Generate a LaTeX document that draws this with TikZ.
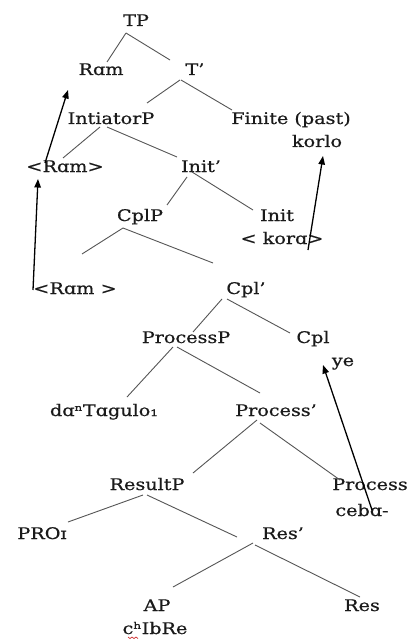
\documentclass[tikz,border=0pt]{standalone}
\usepackage{fontspec}
\setmainfont{DejaVu Serif}[FakeStretch=1.2,FakeBold=0.6]
\usetikzlibrary{arrows.meta}
\definecolor{ink}{HTML}{1A1A1A}
\definecolor{branchgrey}{HTML}{555555}
\definecolor{squiggle}{HTML}{D03030}
\begin{document}
\begin{tikzpicture}[x=1pt,y=-1pt,
  lab/.style={anchor=base, inner sep=0pt, text height=12pt, text depth=3pt,
              font=\fontsize{16}{19}\selectfont, text=ink},
  branch/.style={draw=branchgrey, line width=0.9pt},
  move/.style={draw=black, line width=1.3pt, -{Triangle[length=8.5pt,width=6.5pt]}}]
\fill[white] (0,0) rectangle (408,639);
\useasboundingbox (0,0) rectangle (408,639);

% labels (placed by baseline)
\node[lab] (tp)      at (136,26)  {TP};
\node[lab] (ram)     at (101,75)  {Rɑm};
\node[lab] (tbar)    at (195,75)  {T’};
\node[lab] (initp)   at (111,124) {IntiatorP};
\node[lab] (fin)     at (291,124) {Finite (past)};
\node[lab] (korlo)   at (317,147) {korlo};
\node[lab] (ramtr1)  at (65,172)  {<Rɑm>};
\node[lab] (initbar) at (201,172) {Init’};
\node[lab] (cplp)    at (140,221) {CplP};
\node[lab] (init)    at (277,221) {Init};
\node[lab] (kora)    at (282,244) {< korɑ>};
\node[lab] (ramtr2)  at (75,294)  {<Rɑm >};
\node[lab] (cplbar)  at (246,294) {Cpl’};
\node[lab] (procp)   at (186,343) {ProcessP};
\node[lab] (cpl)     at (313,343) {Cpl};
\node[lab] (ye)      at (343,366) {ye};
\node[lab] (dat)     at (104,416) {dɑⁿTɑgulo₁};
\node[lab] (procbar) at (276,416) {Process’};
\node[lab] (resp)    at (147,490) {ResultP};
\node[lab] (proc)    at (370,490) {Process};
\node[lab] (ceba)    at (362,516) {cebɑ-};
\node[lab] (pro)     at (42,539)  {PROɪ};
\node[lab] (resbar)  at (283,539) {Res’};
\node[lab] (ap)      at (157,611) {AP};
\node[lab] (res)     at (362,611) {Res};
\node[lab] (chibre)  at (155,634) {cʰIbRe};

% loose ends of the CplP branches
\coordinate (cplL) at (82,254);
\coordinate (cplR) at (213,263);

% tree branches
\draw[branch] ([shift={(-10,7)}]tp.base) -- ([shift={(6,-13)}]ram.base);
\draw[branch] ([shift={(-10,7)}]tp.base) -- ([shift={(-25,-15)}]tbar.base);
\draw[branch] ([shift={(-15,5)}]tbar.base) -- ([shift={(36,-21)}]initp.base);
\draw[branch] ([shift={(-14,5)}]tbar.base) -- ([shift={(-59,-14)}]fin.base);
\draw[branch] ([shift={(-11,3)}]initp.base) -- ([shift={(-2,-14)}]ramtr1.base);
\draw[branch] ([shift={(-4,3)}]initp.base) -- ([shift={(-24,-15)}]initbar.base);
\draw[branch] ([shift={(-14,5)}]initbar.base) -- ([shift={(27,-16)}]cplp.base);
\draw[branch] ([shift={(-9,0)}]initbar.base) -- ([shift={(-24,-11)}]init.base);
\draw[branch] ([shift={(-17,7)}]cplp.base) -- (cplL);
\draw[branch] ([shift={(-17,7)}]cplp.base) -- (cplR);
\draw[branch] ([shift={(-24,5)}]cplbar.base) -- ([shift={(7,-11)}]procp.base);
\draw[branch] ([shift={(-19,5)}]cplbar.base) -- ([shift={(-23,-10)}]cpl.base);
\draw[branch] ([shift={(-13,4)}]procp.base) -- ([shift={(23,-19)}]dat.base);
\draw[branch] ([shift={(-9,4)}]procp.base) -- ([shift={(-16,-23)}]procbar.base);
\draw[branch] ([shift={(-19,4)}]procbar.base) -- ([shift={(46,-17)}]resp.base);
\draw[branch] ([shift={(-16,7)}]procbar.base) -- ([shift={(-30,-10)}]proc.base);
\draw[branch] ([shift={(-4,5)}]resp.base) -- ([shift={(26,-17)}]pro.base);
\draw[branch] ([shift={(0,5)}]resp.base) -- ([shift={(-46,-2)}]resbar.base);
\draw[branch] ([shift={(-30,4)}]resbar.base) -- ([shift={(16,-24)}]ap.base);
\draw[branch] ([shift={(-28,6)}]resbar.base) -- ([shift={(-2,-14)}]res.base);

% movement arrows
\draw[move] ([shift={(-20,-9)}]ramtr1.base) -- ([shift={(-33,15)}]ram.base);
\draw[move] ([shift={(-42,-4)}]ramtr2.base) -- ([shift={(-27,7)}]ramtr1.base);
\draw[move] ([shift={(26,6)}]kora.base) -- ([shift={(6,9)}]korlo.base);
\draw[move] ([shift={(10,-6)}]ceba.base) -- ([shift={(-20,-1)}]ye.base);

% spell-check mark under the first letter
\draw[squiggle, line width=0.7pt]
  ([shift={(-27,3)}]chibre.base) -- ++(2,1.5) -- ++(2,-1.5) -- ++(2,1.5)
  -- ++(2,-1.5) -- ++(2,1.5);
\end{tikzpicture}
\end{document}
